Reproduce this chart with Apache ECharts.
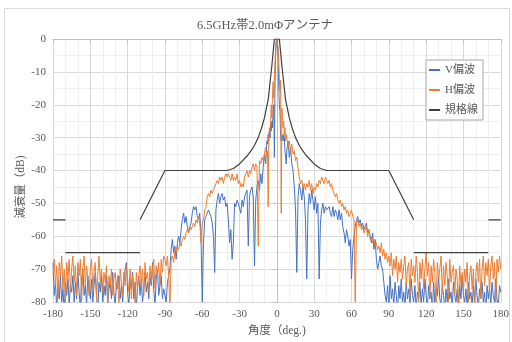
<!DOCTYPE html>
<html><head><meta charset="utf-8">
<script src="https://cdn.jsdelivr.net/npm/echarts@6/dist/echarts.min.js"></script>
<style>html,body{margin:0;padding:0;background:#fff}#c{width:512px;height:342px}</style>
</head><body><div id="c"></div>
<script>
// ---- data ----
const titleText = '6.5GHz帯2.0mΦアンテナ';
const seriesNames = ['V偏波', 'H偏波', '規格線'];
const xTicks = [-180, -150, -120, -90, -60, -30, 0, 30, 60, 90, 120, 150, 180];
const yTicks = [0, -10, -20, -30, -40, -50, -60, -70, -80];

// measurement angles: -180..-8 (1 deg), -7.5..7.5 (0.5 deg), 8..180 (1 deg)
const anglesLeft = [];  for (let a = -180; a <= -8; a++) anglesLeft.push(a);
const anglesCenter = []; for (let a = -15; a <= 15; a++) anglesCenter.push(a / 2);
const anglesRight = []; for (let a = 8; a <= 180; a++) anglesRight.push(a);

// V polarisation (dB)
const vLeft = [
 -68,-78,-74,-82,-75,-79,-72,-80,-76,-83,   // -180..-171
 -74,-78,-73,-81,-75,-77,-72,-80,-74,-79,   // -170
 -71,-77,-82,-73,-70,-78,-75,-81,-72,-76,   // -160
 -79,-73,-80,-75,-71,-78,-83,-74,-77,-72,   // -150
 -80,-75,-78,-72,-81,-76,-74,-79,-71,-77,   // -140
 -82,-74,-76,-72,-79,-75,-80,-73,-70,-68,   // -130
 -77,-81,-73,-76,-71,-79,-74,-82,-75,-72,   // -120
 -78,-73,-80,-76,-71,-77,-74,-79,-72,-75,   // -110
 -68,-76,-81,-73,-70,-78,-75,-72,-79,-76,   // -100
 -78,-80,-74,-72,-70,-64,-61,-65,-63,-67,   // -90
 -62,-60,-62,-58,-55,-53,-56,-54,-57,-59,   // -80
 -57,-56,-53,-51,-52,-51,-54,-55,-53,-60,   // -70
 -80,-62,-55,-54,-53,-52,-52,-54,-56,-60,   // -60
 -71,-52,-49,-47,-50,-48,-47,-49,-48,-51,   // -50
 -50,-55,-62,-58,-67,-62,-50,-51,-49,-50,   // -40
 -50,-53,-49,-51,-48,-47,-46,-63,-48,-46,   // -30
 -45,-48,-69,-49,-45,-43,-46,-41,-44,-39,   // -20
 -35,-38,-31                                // -10..-8
];
const vCenter = [
 -32,-29,-31,-28,-30,-26,-28,-25,-27,-21,-20,-36,-13,-5,-1.2,
 0,
 -1.4,-5.5,-14,-20,-22,-30,-31,-29,-30,-31,-29,-30,-34,-36,-38
];
const vRight = [
 -34,-31,-36,                               // 8..10
 -33,-38,-40,-45,-52,-71,-48,-44,-46,-49,   // 11..20
 -45,-48,-55,-73,-52,-47,-50,-46,-49,-52,   // 21
 -48,-53,-50,-73,-56,-52,-50,-53,-51,-52,   // 31
 -52,-51,-53,-54,-51,-54,-52,-53,-55,-52,   // 41
 -55,-53,-57,-59,-62,-58,-60,-63,-61,-73,   // 51
 -64,-60,-57,-55,-54,-56,-55,-57,-56,-58,   // 61
 -57,-56,-59,-58,-60,-62,-59,-64,-61,-67,   // 71
 -70,-68,-66,-69,-70,-74,-78,-80,-75,-82,   // 81
 -72,-79,-76,-81,-74,-78,-83,-75,-79,-73,   // 91
 -80,-77,-82,-74,-79,-76,-81,-73,-78,-80,   // 101
 -75,-82,-77,-79,-74,-81,-76,-80,-73,-78,   // 111
 -82,-75,-79,-77,-83,-74,-80,-76,-78,-72,   // 121
 -79,-81,-75,-78,-82,-76,-80,-73,-79,-77,   // 131
 -81,-74,-78,-80,-76,-83,-75,-79,-72,-78,   // 141
 -80,-76,-82,-74,-79,-77,-81,-75,-80,-73,   // 151
 -78,-82,-76,-79,-74,-80,-77,-83,-75,-79,   // 161
 -76,-81,-74,-78,-80,-73,-79,-82,-75,-77    // 171..180
];

// H polarisation (dB)
const hLeft = [
 -72,-67,-75,-69,-79,-68,-72,-66,-76,-70,   // -180
 -81,-68,-73,-67,-77,-70,-66,-74,-69,-78,   // -170
 -68,-72,-67,-80,-70,-66,-75,-69,-73,-78,   // -160
 -70,-67,-76,-71,-68,-79,-72,-66,-74,-70,   // -150
 -77,-71,-74,-69,-80,-72,-75,-70,-78,-73,   // -140
 -71,-76,-72,-82,-70,-74,-78,-71,-75,-69,   // -130
 -73,-77,-70,-79,-72,-74,-81,-71,-76,-72,   // -120
 -69,-75,-70,-78,-68,-73,-71,-77,-69,-74,   // -110
 -70,-67,-76,-69,-72,-68,-75,-67,-71,-66,   // -100
 -67,-69,-66,-72,-82,-67,-66,-68,-64,-65,   // -90
 -63,-64,-62,-63,-61,-60,-61,-59,-58,-59,   // -80
 -57,-58,-57,-56,-57,-55,-56,-54,-56,-62,   // -70
 -56,-55,-52,-51,-48,-47,-48,-46,-47,-46,   // -60
 -45,-44,-43,-44,-42,-43,-42,-44,-42,-41,   // -50
 -42,-41,-42,-43,-41,-43,-42,-43,-41,-44,   // -40
 -43,-45,-44,-45,-42,-41,-40,-42,-40,-41,   // -30
 -39,-38,-40,-38,-39,-63,-37,-38,-36,-37,   // -20
 -35,-33,-36                                // -10..-8
];
const hCenter = [
 -34,-51,-30,-27,-28,-25,-20,-24,-17,-13,-18,-12.5,-7,-2.2,-0.4,
 0,
 -0.5,-2.3,-7,-12,-16,-12.5,-53,-21,-23,-27,-25,-29,-27,-31,-29
];
const hRight = [
 -30,-33,-31,                               // 8..10
 -34,-32,-35,-34,-37,-36,-39,-42,-44,-43,   // 11
 -45,-44,-46,-44,-45,-43,-46,-44,-47,-45,   // 21
 -46,-44,-45,-43,-44,-42,-43,-44,-42,-43,   // 31
 -44,-43,-45,-44,-46,-47,-48,-47,-49,-50,   // 41
 -49,-51,-50,-52,-51,-53,-52,-54,-53,-52,   // 51
 -54,-55,-80,-56,-55,-57,-56,-58,-57,-59,   // 61
 -58,-57,-60,-58,-61,-60,-62,-61,-63,-62,   // 71
 -64,-63,-65,-62,-66,-64,-67,-65,-68,-66,   // 81
 -69,-65,-72,-67,-70,-66,-74,-68,-71,-67,   // 91
 -73,-69,-66,-75,-70,-68,-78,-67,-72,-69,   // 101
 -74,-66,-71,-80,-68,-73,-67,-76,-70,-65,   // 111
 -72,-68,-79,-69,-74,-67,-71,-82,-68,-73,   // 121
 -70,-66,-77,-69,-75,-68,-72,-80,-67,-74,   // 131
 -71,-69,-78,-70,-73,-81,-69,-75,-71,-77,   // 141
 -70,-74,-68,-80,-72,-69,-76,-70,-83,-71,   // 151
 -68,-74,-67,-79,-70,-66,-75,-68,-72,-67,   // 161
 -77,-69,-66,-73,-68,-80,-67,-71,-66,-70    // 171
];

// spec line (規格線): '-' = break
const specX = [-180,-170,'-',-170,-110,'-',-110,-90,-40,-35,-30,-24,-20,-18,-15,-12.5,-10,-8.5,-7,-6,-5,-4,-3,-2,
               2,3,4,5,6,7,8.5,10,12.5,15,18,20,24,30,35,40,90,110,'-',110,170,'-',170,180];
const specY = [-55,-55,'-',-65,-65,'-',-55,-40,-40,-39.4,-38,-35.6,-33.6,-32.3,-30,-27.3,-24,-21.2,-18.5,-15,-11.5,-8,-4,0,
               0,-4,-8,-11.5,-15,-18.5,-21.2,-24,-27.3,-30,-32.3,-33.6,-35.6,-38,-39.4,-40,-40,-55,'-',-65,-65,'-',-55,-55];

// ---- build ----
const angles = anglesLeft.concat(anglesCenter, anglesRight);
const vVals = vLeft.concat(vCenter, vRight);
const hVals = hLeft.concat(hCenter, hRight);
const pair = (xs, ys) => xs.map((x, i) => (x === '-' ? ['-', '-'] : [x, ys[i]]));

const serif = '"Liberation Serif","Noto Sans CJK JP",serif';
const txt = '#595959';
const chart = echarts.init(document.getElementById('c'), null, {renderer: 'canvas'});
chart.setOption({
  animation: false,
  backgroundColor: '#fff',
  title: {text: titleText, left: 260, top: 14, textAlign: 'center',
    textStyle: {fontFamily: serif, fontSize: 12.5, fontWeight: 'normal', color: txt}},
  grid: {left: 53, right: 11, top: 39, bottom: 40, containLabel: false},
  legend: {
    orient: 'vertical', left: 426, top: 60, padding: [3, 5, 3, 3],
    itemWidth: 11, itemHeight: 2, itemGap: 6, icon: 'rect',
    borderColor: '#a6a6a6', borderWidth: 1, backgroundColor: '#fff',
    textStyle: {fontFamily: serif, fontSize: 11, color: txt, lineHeight: 14},
    data: seriesNames
  },
  xAxis: {
    type: 'value', min: xTicks[0], max: xTicks[xTicks.length - 1], interval: 30,
    name: '角度（deg.)', nameLocation: 'middle', nameGap: 21,
    nameTextStyle: {fontFamily: serif, fontSize: 11.5, color: txt},
    axisLine: {show: true, lineStyle: {color: '#bfbfbf'}},
    axisTick: {show: true, length: 4, lineStyle: {color: '#bfbfbf'}},
    axisLabel: {fontFamily: serif, fontSize: 11, color: txt, margin: 7},
    splitLine: {show: true, lineStyle: {color: '#d9d9d9', width: 1}},
    minorTick: {show: false, splitNumber: 3},
    minorSplitLine: {show: true, lineStyle: {color: '#efefef', width: 1}}
  },
  yAxis: {
    type: 'value', min: yTicks[yTicks.length - 1], max: yTicks[0], interval: 10,
    axisLine: {show: true, lineStyle: {color: '#bfbfbf'}},
    axisTick: {show: true, length: 4, lineStyle: {color: '#bfbfbf'}},
    axisLabel: {fontFamily: serif, fontSize: 11, color: txt, margin: 7},
    splitLine: {show: true, lineStyle: {color: '#d9d9d9', width: 1}},
    minorTick: {show: false, splitNumber: 2},
    minorSplitLine: {show: true, lineStyle: {color: '#efefef', width: 1}}
  },
  graphic: [
    {type: 'rect', shape: {x: 4.5, y: 8.5, width: 505, height: 345}, silent: true,
     style: {fill: 'none', stroke: '#d9d9d9', lineWidth: 1}, z: -10},
    {type: 'text', x: 21, y: 187, rotation: Math.PI / 2, silent: true,
     style: {text: '減衰量（dB)', font: '11.5px ' + serif, fill: txt, align: 'center', verticalAlign: 'middle'}}
  ],
  series: [
    {name: seriesNames[0], type: 'line', data: pair(angles, vVals), symbol: 'none', clip: true,
     lineStyle: {color: '#4472C4', width: 1}, itemStyle: {color: '#4472C4'}},
    {name: seriesNames[1], type: 'line', data: pair(angles, hVals), symbol: 'none', clip: true,
     lineStyle: {color: '#ED7D31', width: 1}, itemStyle: {color: '#ED7D31'}},
    {name: seriesNames[2], type: 'line', data: pair(specX, specY), symbol: 'none', clip: true,
     connectNulls: false, lineStyle: {color: '#404040', width: 1.2}, itemStyle: {color: '#404040'}}
  ]
});
</script></body></html>
